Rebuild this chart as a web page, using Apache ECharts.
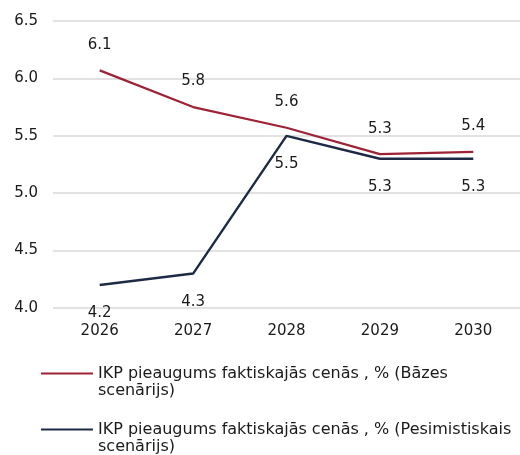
<!DOCTYPE html>
<html>
<head>
<meta charset="utf-8">
<script src="https://cdn.jsdelivr.net/npm/echarts@6/dist/echarts.min.js"></script>
<style>
  html, body { margin: 0; padding: 0; background: #fff; }
  #chart { width: 520px; height: 455px; }
</style>
</head>
<body>
<div id="chart"></div>
<script>
// gadi
const years = ['2026', '2027', '2028', '2029', '2030'];
// IKP pieaugums, %
const baseValues = [6.07, 5.75, 5.57, 5.34, 5.36];
const pessValues = [4.2, 4.3, 5.5, 5.3, 5.3];
const seriesNames = [
  'IKP pieaugums faktiskajās cenās , % (Bāzes scenārijs)',
  'IKP pieaugums faktiskajās cenās , % (Pesimistiskais scenārijs)'
];

const font = "'DejaVu Sans'";
// legendas ikona: līnija pirmās rindas augstumā
const legendIcon = 'path://M0,0h0.01v0.01h-0.01Z M0,7.5h52v2h-52Z M0,34h0.01v0.01h-0.01Z';

const option = {
  animation: false,
  textStyle: { fontFamily: font },
  grid: {
    left: 53,
    right: -9,
    top: 21,
    bottom: 147
  },
  legend: {
    orient: 'vertical',
    left: 41,
    top: 365,
    padding: 0,
    icon: legendIcon,
    itemWidth: 52,
    itemHeight: 34,
    itemGap: 22,
    formatter: function (name) {
      return name.replace(' scenārijs)', '\nscenārijs)');
    },
    textStyle: {
      fontFamily: font,
      fontSize: 16,
      lineHeight: 17,
      color: '#1a1a1a'
    },
    data: seriesNames
  },
  xAxis: {
    type: 'category',
    data: years,
    axisLine: { show: false },
    axisTick: { show: false },
    axisLabel: {
      margin: 16,
      fontSize: 15,
      color: '#1a1a1a',
      fontFamily: font
    }
  },
  yAxis: {
    type: 'value',
    min: 4,
    max: 6.5,
    interval: 0.5,
    axisLine: { show: false },
    axisTick: { show: false },
    splitLine: { lineStyle: { color: '#d9d9d9', width: 1.5 } },
    axisLabel: {
      margin: 15,
      fontSize: 15,
      color: '#1a1a1a',
      fontFamily: font,
      formatter: function (v) { return v.toFixed(1); }
    }
  },
  series: [
    {
      name: seriesNames[0],
      type: 'line',
      data: baseValues,
      symbol: 'circle',
      symbolSize: 0,
      lineStyle: { color: '#9e2235', width: 2.2 },
      itemStyle: { color: '#9e2235' },
      label: {
        show: true,
        position: 'top',
        distance: 18,
        fontSize: 15,
        color: '#1a1a1a',
        fontFamily: font,
        formatter: function (p) { return p.value.toFixed(1); }
      }
    },
    {
      name: seriesNames[1],
      type: 'line',
      data: pessValues,
      symbol: 'circle',
      symbolSize: 0,
      lineStyle: { color: '#1e2a45', width: 2.4 },
      itemStyle: { color: '#1e2a45' },
      label: {
        show: true,
        position: 'bottom',
        distance: 21,
        fontSize: 15,
        color: '#1a1a1a',
        fontFamily: font,
        formatter: function (p) { return p.value.toFixed(1); }
      }
    }
  ]
};

const myChart = echarts.init(document.getElementById('chart'));
myChart.setOption(option);
</script>
</body>
</html>
